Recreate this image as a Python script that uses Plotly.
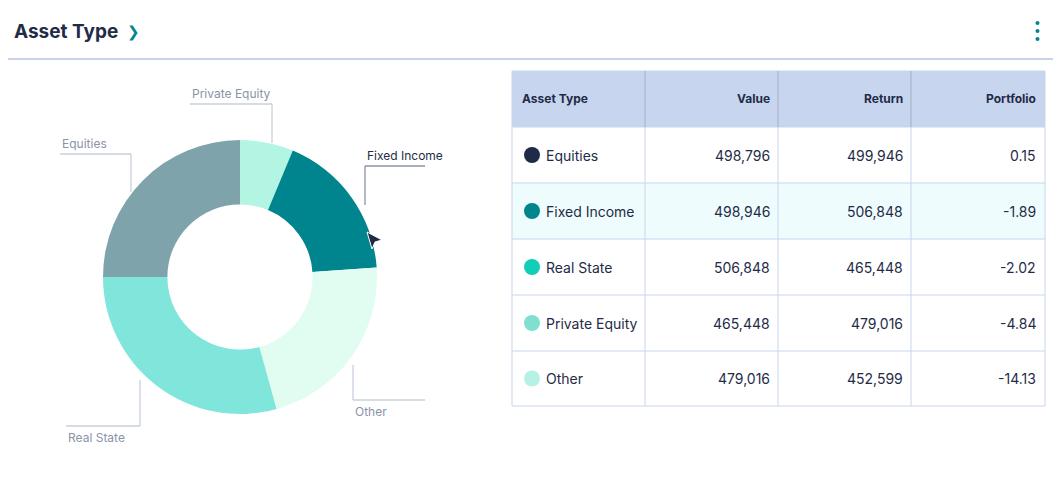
import plotly.graph_objects as go

W, H = 1061, 499
OFF = 8  # browser page margin
FW, FH = W - 2 * OFF, H - 2 * OFF

# donut slices (clockwise from 12 o'clock), shares
pie_labels = ["Private Equity", "Fixed Income", "Other", "Real State", "Equities"]
pie_shares = [6.3, 17.6, 21.8, 29.3, 25.0]
pie_colors = ["#b3f5e3", "#00858f", "#e1fcf1", "#80e6dc", "#7fa3ab"]

# table
asset_types = ["Equities", "Fixed Income", "Real State", "Private Equity", "Other"]
values = ["498,796", "498,946", "506,848", "465,448", "479,016"]
returns = ["499,946", "506,848", "465,448", "479,016", "452,599"]
portfolio = ["0.15", "-1.89", "-2.02", "-4.84", "-14.13"]
dot_colors = ["#1f2b47", "#00858f", "#12cdb8", "#7fe0d0", "#b6f1e4"]


def px(x):
    return (x - OFF) / FW


def py(y):
    return 1 - (y - OFF) / FH


fig = go.Figure()
fig.add_trace(go.Pie(
    labels=pie_labels, values=pie_shares, sort=False, direction="clockwise",
    rotation=0, hole=0.53, textinfo="none", showlegend=False,
    marker=dict(colors=pie_colors, line=dict(width=0)),
    domain=dict(x=[px(103), px(377)], y=[py(414), py(140)]),
))

shapes = []
ann = []
dark = "#1f2b47"
grey_txt = "#8a93a8"
line_c = "#c9d0de"


def L(x0, y0, x1, y1, color=line_c, w=1.3):
    shapes.append(dict(type="line", xref="paper", yref="paper", x0=px(x0), y0=py(y0),
                       x1=px(x1), y1=py(y1), line=dict(color=color, width=w)))


def T(x, y, text, size=12, color=dark, xa="left", bold=False):
    ann.append(dict(xref="paper", yref="paper", x=px(x), y=py(y), text=f"<b>{text}</b>" if bold else text,
                    showarrow=False, xanchor=xa, yanchor="middle",
                    font=dict(size=size, color=color, family="Inter")))


# header
L(OFF, 59, W - OFF, 59, "#c7d3ea", 2)
T(12, 31, "Asset Type", 19, dark, bold=True)
T(125, 31, "❯", 15, "#00858f")
for yy in (23, 31, 39):
    shapes.append(dict(type="circle", xref="paper", yref="paper", x0=px(1035.5), x1=px(1039.5),
                       y0=py(yy + 2), y1=py(yy - 2), fillcolor="#00858f", line=dict(width=0)))

# donut labels with leader lines
T(190, 93, "Private Equity", 12, grey_txt)
L(190, 104, 272, 104); L(272, 104, 272, 143)
T(60, 143, "Equities", 12, grey_txt)
L(60, 154, 131, 154); L(131, 154, 131, 192)
T(365, 155, "Fixed Income", 12, dark)
L(365, 166, 425, 166, "#8a93a8"); L(365, 166, 365, 205, "#8a93a8")
T(353, 411, "Other", 12, grey_txt)
L(353, 400, 425, 400); L(353, 365, 353, 400)
T(66, 437, "Real State", 12, grey_txt)
L(66, 426, 140, 426); L(140, 380, 140, 426)

# cursor
shapes.append(dict(type="path", xref="paper", yref="paper",
                   path=f"M {px(367)} {py(232)} L {px(382)} {py(240)} L {px(375)} {py(242)} L {px(372)} {py(249)} Z",
                   fillcolor="#1f2b47", line=dict(color="white", width=1)))

# table
tx0, tx1 = 512, 1045
cols = [512, 645, 778, 911, 1045]
rows = [71, 127, 183, 239, 295, 351, 406]
shapes.append(dict(type="rect", xref="paper", yref="paper", x0=px(tx0), x1=px(tx1), y0=py(127), y1=py(71),
                   fillcolor="#c7d5ee", line=dict(width=0)))
shapes.append(dict(type="rect", xref="paper", yref="paper", x0=px(tx0), x1=px(tx1), y0=py(239), y1=py(183),
                   fillcolor="#effcfd", line=dict(width=0)))
for r in rows:
    L(tx0, r, tx1, r, "#c9d5ec", 1)
for c in cols:
    L(c, 71, c, 406, "#c9d5ec", 1)
for c in cols[1:4]:
    L(c, 71, c, 127, "#b0bccf", 1.5)

T(520, 99, "Asset Type", 12, dark, bold=True)
T(772, 99, "Value", 12, dark, xa="right", bold=True)
T(905, 99, "Return", 12, dark, xa="right", bold=True)
T(1038, 99, "Portfolio", 12, dark, xa="right", bold=True)
for i, name in enumerate(asset_types):
    yc = (rows[i + 1] + rows[i + 2]) / 2
    shapes.append(dict(type="circle", xref="paper", yref="paper", x0=px(524), x1=px(540),
                       y0=py(yc + 8), y1=py(yc - 8), fillcolor=dot_colors[i], line=dict(width=0)))
    T(544, yc, name, 14, dark)
    T(772, yc, values[i], 14, dark, xa="right")
    T(905, yc, returns[i], 14, dark, xa="right")
    T(1038, yc, portfolio[i], 14, dark, xa="right")

fig.update_layout(width=FW, height=FH, margin=dict(l=0, r=0, t=0, b=0),
                  paper_bgcolor="white", plot_bgcolor="white",
                  shapes=shapes, annotations=ann, font=dict(family="Inter"))
fig.write_html("out.html")
